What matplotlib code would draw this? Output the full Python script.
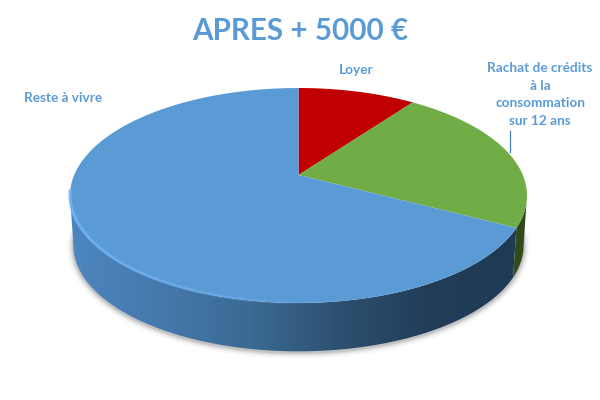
import numpy as np
import matplotlib
matplotlib.use("Agg")
import matplotlib.pyplot as plt
from matplotlib.colors import LinearSegmentedColormap, to_rgba
from matplotlib.patches import Polygon
from matplotlib.collections import LineCollection

title = "APRES + 5000 €"
labels = ["Loyer", "Rachat de crédits\nà la\nconsommation\nsur 12 ans", "Reste à vivre"]
values = [10.0, 22.7, 67.3]
colors = ["#c00000", "#70ad47", "#5b9bd5"]
side_dark = "#2f4a1c"
text_color = "#5b9bd5"

# flat circle -> screen, fitted on the picture (pie tilted with perspective)
cx, cy, r = 298.5, 175.0, 224.3
persp_a, persp_c = -70.2, 0.1907
depth = 50.0
shrink = 0.985
mid_y = 195.5


def top_rim(theta):
    u, v = np.sin(theta), np.cos(theta)
    d = 1 + persp_c * v
    return cx + r * u / d, (cy + persp_a * v) / d


def low_rim(theta):
    x, y = top_rim(theta)
    return cx + (x - cx) * shrink, mid_y + (y - mid_y) * shrink + depth


def side_poly(t0, t1):
    t = np.linspace(t0, t1, 120)
    x0, y0 = top_rim(t)
    x1, y1 = low_rim(t)
    return np.r_[x0, x1[::-1]], np.r_[y0, y1[::-1]]


fig = plt.figure(figsize=(6, 4), dpi=100)
ax = fig.add_axes([0, 0, 1, 1])
plt.rcParams["font.family"] = ["Lato", "DejaVu Sans"]

edges = np.r_[0, np.cumsum(values)] / np.sum(values) * 2 * np.pi
widest = np.pi - np.arcsin(np.sqrt(1 - persp_c ** 2))  # right edge of the ellipse
left = 2 * np.pi - widest

# soft shadow under the pie
t = np.linspace(widest - 0.1, left + 0.1, 200)
xs, ys = low_rim(t)
for lw, a in zip([9, 6, 4, 2], [0.03, 0.05, 0.07, 0.10]):
    ax.plot(xs, ys + 1, color="black", alpha=a, lw=lw, zorder=1, solid_capstyle="round")

# side of the blue slice with horizontal shading
xp, yp = side_poly(edges[2], left)
poly = Polygon(np.c_[xp, yp], closed=True, fc="none", ec="none", zorder=2)
ax.add_patch(poly)
cmap = LinearSegmentedColormap.from_list(
    "side", ["#4d86bf", "#4579ab", "#3b6a93", "#2d5070", "#213d58", "#1f3a54"])
grad = np.linspace(0, 1, 256).reshape(1, -1)
im = ax.imshow(grad, extent=(70, 520, 360, 190), cmap=cmap, aspect="auto", zorder=2)
im.set_clip_path(poly)

# side of the green slice
xp, yp = side_poly(widest, edges[2])
ax.fill(xp, yp, color=side_dark, lw=0, zorder=2)

# top faces
for i in range(3):
    t = np.linspace(edges[i], edges[i + 1], 200)
    x, y = top_rim(t)
    ax.fill(np.r_[cx, x], np.r_[cy, y], color=colors[i], lw=0, zorder=3)

# light bevel on the front rim, fades towards the right
t = np.linspace(left + 0.05, edges[2] + 0.6, 160)
x, y = top_rim(t)
pts = np.c_[x, y - 0.5]
segs = np.stack([pts[:-1], pts[1:]], axis=1)
fade = np.clip((x[:-1] - 60) / 260, 0, 1)
seg_colors = [to_rgba("#6fb4f5", 1 - f) for f in fade]
ax.add_collection(LineCollection(segs, colors=seg_colors, linewidths=2.2, zorder=4))

# labels
ax.text(300, 31, title, ha="center", va="center", color=text_color,
        fontsize=21.3, fontweight="bold")
ax.text(356, 70, labels[0], ha="center", va="center", color=text_color,
        fontsize=9.8, fontweight="bold")
ax.text(540, 94.5, labels[1], ha="center", va="center", color=text_color,
        fontsize=9.8, fontweight="bold", linespacing=1.57)
ax.text(63, 98, labels[2], ha="center", va="center", color=text_color,
        fontsize=9.8, fontweight="bold")
ax.plot([510, 510], [131, 152], color="#4a7ebb", lw=0.9, zorder=5)

ax.set_xlim(0, 600)
ax.set_ylim(400, 0)
ax.axis("off")
fig.savefig("out.png", dpi=100)
